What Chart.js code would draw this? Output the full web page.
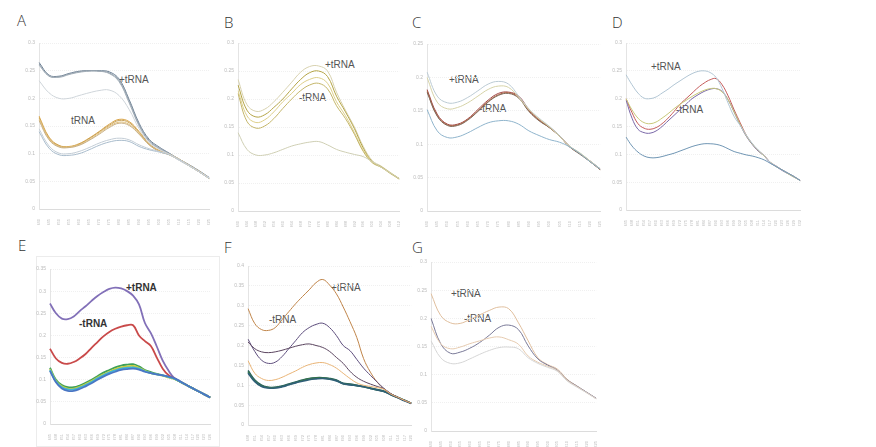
<!DOCTYPE html>
<html><head><meta charset="utf-8">
<script src="https://cdn.jsdelivr.net/npm/chart.js@4"></script>
<style>
html,body{margin:0;padding:0;background:#fff;width:876px;height:447px;overflow:hidden;position:relative;font-family:"Liberation Sans","Open Sans",sans-serif;}
canvas{position:absolute;}
.lt{position:absolute;font-family:"Open Sans","DejaVu Sans",sans-serif;font-weight:300;font-size:15px;color:#333;line-height:1;}
.an{position:absolute;font-family:"Liberation Sans","Open Sans",sans-serif;font-size:10px;color:#555;line-height:1;white-space:nowrap;}
.anb{color:#333;font-weight:bold;font-size:10px;}
</style></head><body>
<div class="lt" style="left:17px;top:13px">A</div>
<div class="lt" style="left:224px;top:15px">B</div>
<div class="lt" style="left:412px;top:15px">C</div>
<div class="lt" style="left:612px;top:15px">D</div>
<div class="lt" style="left:18px;top:238px">E</div>
<div class="lt" style="left:224px;top:240px">F</div>
<div class="lt" style="left:412px;top:240px">G</div>
<div style="position:absolute;left:36px;top:256px;width:182px;height:189px;border:1px solid #ececec;"></div>

<div class="an" style="left:119px;top:75px">+tRNA</div>
<div class="an" style="left:71px;top:116px">tRNA</div>
<div class="an" style="left:325px;top:60px">+tRNA</div>
<div class="an" style="left:299px;top:93px">-tRNA</div>
<div class="an" style="left:449px;top:75px">+tRNA</div>
<div class="an" style="left:479px;top:104px">-tRNA</div>
<div class="an" style="left:651px;top:62px">+tRNA</div>
<div class="an" style="left:676px;top:105px">-tRNA</div>
<div class="an anb" style="left:126px;top:283px">+tRNA</div>
<div class="an anb" style="left:79px;top:319px">-tRNA</div>
<div class="an" style="left:331px;top:283px">+tRNA</div>
<div class="an" style="left:269px;top:315px">-tRNA</div>
<div class="an" style="left:451px;top:289px">+tRNA</div>
<div class="an" style="left:464px;top:314px">-tRNA</div>

<canvas id="cA"></canvas><canvas id="cB"></canvas><canvas id="cC"></canvas><canvas id="cD"></canvas>
<canvas id="cE"></canvas><canvas id="cF"></canvas><canvas id="cG"></canvas>
<script>
// ---------- tick labels (wavelength, nm) ----------
const labA = ['240','245','250','255','260','265','270','275','280','285','290','295','300','305','310','315','320','325'];
const labB = ['240','244','248','252','256','260','264','268','272','276','280','284','288','292','296','300','304','308','312'];
const labC = ['240','245','250','255','260','265','270','275','280','285','290','295','300','305','310','315','320','325'];
const labD = ['245','248','251','254','257','260','263','266','269','272','275','278','281','284','287','290','293','296','299','302','305','308','311','314','317','320','323','326','329','332'];
const labE = ['245','248','251','254','257','260','263','266','269','272','275','278','281','284','287','290','293','296','299','302','305','308','311','314','317','320','323','326'];
const labF = ['248','251','254','257','260','263','266','269','272','275','278','281','284','287','290','293','296','299','302','305','308','311','314','317','320'];
const labG = ['240','245','250','255','260','265','270','275','280','285','290','295','300','305','310','315','320','325'];

// ---------- Panel A ----------
const A_p1 = [0.265,0.242,0.240,0.245,0.249,0.250,0.250,0.248,0.235,0.198,0.155,0.126,0.112,0.101,0.090,0.080,0.069,0.057];
const A_p2 = [0.262,0.240,0.239,0.244,0.248,0.250,0.249,0.246,0.232,0.195,0.152,0.124,0.110,0.100,0.089,0.079,0.068,0.056];
const A_p3 = [0.260,0.241,0.238,0.243,0.247,0.249,0.249,0.245,0.230,0.192,0.150,0.122,0.109,0.099,0.088,0.078,0.067,0.056];
const A_p4 = [0.232,0.210,0.200,0.200,0.205,0.210,0.214,0.215,0.205,0.180,0.145,0.120,0.108,0.099,0.088,0.078,0.067,0.056];
const A_m1 = [0.168,0.130,0.115,0.113,0.118,0.128,0.140,0.153,0.162,0.158,0.140,0.118,0.106,0.099,0.090,0.079,0.068,0.056];
const A_m2 = [0.165,0.128,0.114,0.112,0.117,0.127,0.139,0.151,0.160,0.156,0.138,0.117,0.105,0.099,0.090,0.079,0.068,0.056];
const A_m3 = [0.163,0.127,0.113,0.112,0.116,0.125,0.137,0.149,0.157,0.153,0.136,0.116,0.105,0.098,0.089,0.078,0.067,0.055];
const A_m4 = [0.160,0.125,0.112,0.111,0.115,0.124,0.135,0.147,0.155,0.151,0.135,0.116,0.104,0.098,0.089,0.078,0.067,0.055];
const A_l1 = [0.145,0.114,0.101,0.100,0.104,0.111,0.119,0.125,0.128,0.125,0.116,0.109,0.104,0.099,0.090,0.079,0.068,0.056];
const A_l2 = [0.140,0.110,0.098,0.097,0.100,0.107,0.115,0.121,0.124,0.122,0.113,0.107,0.103,0.098,0.089,0.078,0.067,0.055];

// ---------- Panel B ----------
const B_1 = [0.235,0.190,0.178,0.182,0.195,0.212,0.230,0.248,0.258,0.259,0.250,0.212,0.180,0.150,0.115,0.090,0.080,0.069,0.058];
const B_2 = [0.225,0.180,0.168,0.172,0.185,0.200,0.218,0.235,0.247,0.250,0.240,0.205,0.177,0.147,0.112,0.088,0.079,0.068,0.058];
const B_3 = [0.215,0.170,0.158,0.163,0.177,0.195,0.210,0.226,0.235,0.238,0.228,0.195,0.170,0.140,0.108,0.087,0.078,0.068,0.057];
const B_4 = [0.210,0.160,0.148,0.152,0.165,0.183,0.200,0.215,0.225,0.228,0.218,0.188,0.165,0.137,0.106,0.086,0.078,0.067,0.057];
const B_5 = [0.140,0.110,0.100,0.100,0.104,0.110,0.116,0.120,0.123,0.124,0.118,0.110,0.105,0.101,0.097,0.088,0.078,0.068,0.058];

// ---------- Panel C ----------
const C_1 = [0.208,0.172,0.162,0.163,0.170,0.180,0.190,0.194,0.190,0.172,0.153,0.139,0.127,0.113,0.097,0.087,0.075,0.063];
const C_2 = [0.200,0.163,0.153,0.155,0.162,0.172,0.182,0.187,0.185,0.170,0.152,0.138,0.126,0.112,0.097,0.087,0.075,0.063];
const C_3 = [0.182,0.145,0.130,0.130,0.138,0.152,0.166,0.176,0.178,0.172,0.152,0.137,0.126,0.113,0.097,0.086,0.075,0.063];
const C_4 = [0.180,0.143,0.129,0.129,0.137,0.150,0.164,0.174,0.177,0.170,0.150,0.136,0.125,0.112,0.096,0.086,0.074,0.062];
const C_5 = [0.178,0.142,0.128,0.128,0.136,0.149,0.163,0.173,0.176,0.169,0.149,0.135,0.125,0.112,0.096,0.085,0.074,0.062];
const C_6 = [0.152,0.120,0.110,0.111,0.117,0.125,0.132,0.135,0.135,0.130,0.120,0.113,0.107,0.103,0.096,0.086,0.074,0.063];

// ---------- Panel D ----------
const D_1 = [0.243,0.225,0.210,0.201,0.200,0.203,0.210,0.217,0.225,0.232,0.239,0.245,0.249,0.250,0.247,0.238,0.218,0.192,0.168,0.152,0.135,0.120,0.108,0.098,0.086,0.079,0.072,0.066,0.060,0.053];
const D_2 = [0.200,0.175,0.155,0.147,0.145,0.148,0.155,0.165,0.177,0.190,0.200,0.210,0.220,0.228,0.234,0.236,0.225,0.205,0.180,0.157,0.135,0.119,0.107,0.098,0.086,0.079,0.072,0.066,0.060,0.053];
const D_3 = [0.200,0.180,0.165,0.157,0.155,0.158,0.165,0.173,0.182,0.190,0.197,0.204,0.210,0.215,0.218,0.218,0.212,0.198,0.176,0.154,0.134,0.119,0.107,0.097,0.086,0.078,0.072,0.065,0.059,0.053];
const D_4 = [0.198,0.165,0.145,0.139,0.138,0.142,0.150,0.160,0.170,0.180,0.190,0.200,0.207,0.213,0.217,0.218,0.213,0.198,0.176,0.153,0.133,0.118,0.106,0.097,0.085,0.078,0.071,0.065,0.059,0.053];
const D_5 = [0.131,0.115,0.104,0.097,0.094,0.094,0.096,0.099,0.102,0.106,0.110,0.114,0.117,0.119,0.119,0.118,0.115,0.110,0.105,0.102,0.099,0.097,0.094,0.090,0.084,0.078,0.072,0.066,0.060,0.053];

// ---------- Panel E ----------
const E_p = [0.272,0.250,0.238,0.237,0.243,0.255,0.266,0.278,0.289,0.298,0.305,0.308,0.306,0.300,0.290,0.270,0.228,0.205,0.175,0.143,0.120,0.103,0.095,0.088,0.081,0.074,0.067,0.060];
const E_m = [0.170,0.148,0.138,0.136,0.140,0.148,0.158,0.172,0.185,0.198,0.208,0.215,0.220,0.223,0.223,0.200,0.187,0.176,0.150,0.125,0.110,0.103,0.095,0.088,0.081,0.074,0.067,0.060];
const E_g = [0.127,0.100,0.088,0.083,0.083,0.087,0.093,0.100,0.108,0.116,0.122,0.128,0.132,0.134,0.135,0.130,0.122,0.117,0.113,0.110,0.106,0.102,0.095,0.088,0.081,0.074,0.067,0.060];
const E_y = [0.124,0.097,0.085,0.080,0.080,0.084,0.090,0.097,0.105,0.112,0.118,0.124,0.128,0.130,0.131,0.127,0.120,0.115,0.112,0.109,0.105,0.101,0.095,0.088,0.081,0.074,0.067,0.060];
const E_c = [0.122,0.096,0.083,0.078,0.078,0.082,0.088,0.095,0.103,0.110,0.116,0.121,0.125,0.127,0.128,0.125,0.119,0.115,0.112,0.110,0.106,0.102,0.095,0.088,0.081,0.074,0.067,0.060];
const E_b = [0.120,0.094,0.080,0.075,0.075,0.079,0.085,0.092,0.100,0.107,0.113,0.118,0.122,0.124,0.125,0.123,0.118,0.115,0.112,0.110,0.107,0.103,0.096,0.088,0.081,0.074,0.067,0.060];

// ---------- Panel F ----------
const F_o = [0.293,0.255,0.240,0.238,0.245,0.265,0.285,0.305,0.323,0.340,0.358,0.366,0.352,0.330,0.297,0.260,0.220,0.167,0.133,0.108,0.090,0.078,0.070,0.062,0.055];
const F_p = [0.216,0.185,0.163,0.155,0.158,0.172,0.192,0.212,0.232,0.245,0.253,0.256,0.245,0.225,0.200,0.187,0.165,0.143,0.125,0.108,0.092,0.079,0.070,0.062,0.055];
const F_d = [0.209,0.192,0.184,0.182,0.184,0.188,0.193,0.198,0.202,0.204,0.200,0.195,0.185,0.170,0.155,0.135,0.120,0.110,0.103,0.097,0.091,0.079,0.070,0.062,0.055];
const F_l = [0.162,0.130,0.117,0.112,0.114,0.120,0.128,0.136,0.145,0.152,0.156,0.157,0.152,0.143,0.130,0.117,0.106,0.100,0.097,0.094,0.090,0.078,0.070,0.062,0.055];
const F_t1 = [0.137,0.113,0.100,0.095,0.095,0.098,0.103,0.108,0.113,0.117,0.119,0.119,0.117,0.113,0.105,0.103,0.100,0.097,0.093,0.089,0.085,0.077,0.070,0.062,0.055];
const F_t2 = [0.134,0.111,0.098,0.094,0.094,0.097,0.102,0.107,0.112,0.116,0.118,0.118,0.116,0.112,0.104,0.102,0.099,0.096,0.092,0.088,0.084,0.077,0.069,0.062,0.055];
const F_t3 = [0.131,0.109,0.097,0.093,0.093,0.096,0.101,0.106,0.110,0.114,0.116,0.117,0.115,0.111,0.104,0.101,0.099,0.096,0.092,0.088,0.084,0.076,0.069,0.061,0.054];

// ---------- Panel G ----------
const G_1 = [0.244,0.205,0.192,0.191,0.198,0.206,0.214,0.220,0.217,0.192,0.160,0.130,0.118,0.110,0.092,0.080,0.069,0.058];
const G_2 = [0.200,0.155,0.138,0.140,0.147,0.157,0.170,0.184,0.188,0.180,0.151,0.128,0.117,0.108,0.091,0.080,0.069,0.058];
const G_3 = [0.186,0.155,0.146,0.149,0.155,0.160,0.165,0.167,0.162,0.154,0.133,0.122,0.115,0.107,0.090,0.079,0.068,0.057];
const G_4 = [0.160,0.130,0.120,0.121,0.128,0.136,0.143,0.148,0.149,0.146,0.130,0.120,0.113,0.106,0.089,0.078,0.068,0.057];

const YW = 22, XH = 16, PT = 5, PR = 4;
function panel(id, rect, labels, series, yMax) {
  const cv = document.getElementById(id);
  const w = rect.r - rect.l + YW + PR, h = rect.b - rect.t + PT + XH;
  cv.width = w; cv.height = h;
  cv.style.left = (rect.l - YW) + 'px'; cv.style.top = (rect.t - PT) + 'px';
  cv.style.width = w + 'px'; cv.style.height = h + 'px';
  new Chart(cv, {
    type: 'line',
    data: { labels: labels, datasets: series.map(s => ({
      data: s[0], borderColor: s[1], borderWidth: s[2] || 1, pointRadius: 0,
      tension: 0.4, fill: false })) },
    options: {
      responsive: false, animation: false, devicePixelRatio: 1,
      layout: { padding: { top: PT, right: PR, left: 0, bottom: 0 } },
      plugins: { legend: { display: false }, tooltip: { enabled: false } },
      scales: {
        x: { type: 'category', offset: false,
             grid: { display: false }, border: { color: '#dcdcdc' },
             ticks: { autoSkip: false, minRotation: 90, maxRotation: 90, padding: 2,
                      font: { size: 4, family: 'Liberation Sans' }, color: '#bbb' },
             afterFit: s => { s.height = XH; } },
        y: { min: 0, max: yMax, grid: { color: '#f0f0f0', drawTicks: false },
             border: { color: '#e4e4e4', dash: [1, 1] },
             ticks: { stepSize: 0.05, padding: 4, font: { size: 5, family: 'Liberation Sans' }, color: '#bbb',
                      callback: v => String(parseFloat(v.toFixed(2))) },
             afterFit: s => { s.width = YW; } }
      }
    }
  });
}

panel('cA', {l:39, r:212, t:41, b:209}, labA, [
  [A_p4,'#cfd5da'], [A_l1,'#c3cdd6'], [A_l2,'#a9bccc'],
  [A_m4,'#c8b088'], [A_m3,'#e3c27c'], [A_m2,'#c9a35c'], [A_m1,'#d9a54a'],
  [A_p3,'#a3aeb8'], [A_p2,'#8c9aa6'], [A_p1,'#6f8296']
], 0.3);
panel('cB', {l:238, r:402, t:41, b:211}, labB, [
  [B_5,'#cfcfb4'], [B_4,'#c4b66a'], [B_3,'#ddcf8a'], [B_2,'#b5a547'], [B_1,'#d8d2b0']
], 0.3);
panel('cC', {l:427, r:603, t:42, b:211}, labC, [
  [C_6,'#8fb4cc'], [C_2,'#d6d3a8'], [C_1,'#bccbd4'],
  [C_5,'#7f6a5a'], [C_4,'#b0603f'], [C_3,'#a04848']
], 0.25);
panel('cD', {l:626, r:803, t:41, b:210}, labD, [
  [D_5,'#7096b4'], [D_1,'#b2c6d4'], [D_3,'#c8c87a'], [D_4,'#7a68a8'], [D_2,'#c45a5a']
], 0.3);
panel('cE', {l:50, r:213, t:267, b:424}, labE, [
  [E_b,'#4a76c4',1.8], [E_c,'#3fb3d6',1.8], [E_y,'#c9cc3c',1.8], [E_g,'#3fa057',1.8],
  [E_m,'#c94a4a',1.8], [E_p,'#8270b8',1.8]
], 0.35);
panel('cF', {l:248, r:414, t:264, b:425}, labF, [
  [F_l,'#e9b476'], [F_d,'#5c4660'], [F_p,'#5d4d7c'], [F_o,'#c0854a'],
  [F_t3,'#2f5f78',1.6], [F_t2,'#3b7a4a',1.6], [F_t1,'#1f5a5a',1.6]
], 0.4);
panel('cG', {l:431, r:599, t:260, b:431}, labG, [
  [G_4,'#d6d6d6'], [G_3,'#e6cbb0'], [G_2,'#7a7a98'], [G_1,'#e0bf9e']
], 0.3);
</script>
</body></html>
